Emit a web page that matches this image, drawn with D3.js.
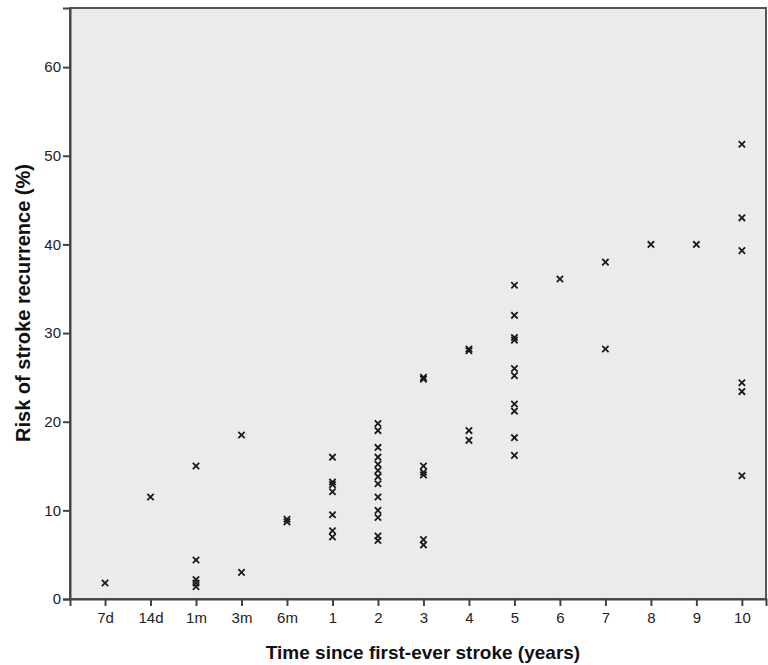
<!DOCTYPE html>
<html>
<head>
<meta charset="utf-8">
<script src="https://cdn.jsdelivr.net/npm/d3@7"></script>
<style>
  body { margin: 0; background: #fff; }
  text { font-family: "Liberation Sans", Arial, sans-serif; }
</style>
</head>
<body>
<div class="plot"></div>
<script>
// categories along x, one column of points per category
var categories = ['7d','14d','1m','3m','6m','1','2','3','4','5','6','7','8','9','10'];

// risk values (%) read for each category
var v7d  = [1.8];
var v14d = [11.5];
var v1m  = [15.0, 4.4, 2.2, 1.8, 1.4];
var v3m  = [18.5, 3.0];
var v6m  = [9.0, 8.7];
var v1y  = [16.0, 13.2, 12.9, 12.1, 9.5, 7.7, 7.0];
var v2y  = [19.8, 19.0, 17.1, 16.0, 15.2, 14.5, 13.8, 13.0, 11.5, 10.0, 9.2, 7.1, 6.6];
var v3y  = [25.0, 24.8, 15.0, 14.3, 14.0, 6.7, 6.1];
var v4y  = [28.2, 28.0, 19.0, 17.9];
var v5y  = [35.4, 32.0, 29.5, 29.2, 26.0, 25.2, 22.0, 21.2, 18.2, 16.2];
var v6y  = [36.1];
var v7y  = [38.0, 28.2];
var v8y  = [40.0];
var v9y  = [40.0];
var v10y = [51.3, 43.0, 39.3, 24.4, 23.4, 13.9];

var yTicks = [0, 10, 20, 30, 40, 50, 60];

var columns = [v7d, v14d, v1m, v3m, v6m, v1y, v2y, v3y, v4y, v5y, v6y, v7y, v8y, v9y, v10y];
var points = [];
columns.forEach(function(col, i){
    col.forEach(function(v){ points.push({c: categories[i], i: i, v: v}); });
});

var W = 768, H = 665;
var m = {t: 8, r: 2, b: 66, l: 70},
    w = W - m.l - m.r,
    h = H - m.t - m.b;

var svg = d3.select('.plot').append('svg')
    .attr('width', W)
    .attr('height', H);

var g = svg.append('g')
    .attr('transform', 'translate(' + m.l + ',' + m.t + ')');

var x = d3.scaleLinear().domain([-0.77, 14.53]).range([0, w]);
var y = d3.scaleLinear().domain([0, 66.67]).range([h, 0]);

// plot background and frame
g.append('rect')
    .attr('width', w).attr('height', h)
    .attr('fill', '#ebebeb')
    .attr('stroke', '#555')
    .attr('stroke-width', 2);

// y axis
var yAxis = g.append('g')
    .call(d3.axisLeft(y).tickValues(yTicks).tickSize(7).tickPadding(2));
yAxis.select('.domain').attr('stroke', '#444').attr('stroke-width', 2);
yAxis.selectAll('.tick line').attr('stroke', '#444').attr('stroke-width', 2);
yAxis.selectAll('.tick text')
    .attr('font-size', 15).attr('fill', '#222')
    .style('font-family', '"Liberation Sans", Arial, sans-serif');

// x axis
var xAxis = g.append('g')
    .attr('transform', 'translate(0,' + h + ')')
    .call(d3.axisBottom(x).tickValues(d3.range(categories.length))
        .tickFormat(function(d){ return categories[d]; })
        .tickSize(7).tickPadding(6));
xAxis.select('.domain').attr('stroke', '#444').attr('stroke-width', 2);
xAxis.selectAll('.tick line').attr('stroke', '#444').attr('stroke-width', 2);
xAxis.selectAll('.tick text')
    .attr('font-size', 15).attr('fill', '#222')
    .style('font-family', '"Liberation Sans", Arial, sans-serif');

// the markers
var marker = d3.symbol().type(d3.symbolTimes).size(28);
g.append('g').selectAll('path')
    .data(points)
    .enter()
    .append('path')
    .attr('transform', function(d){ return 'translate(' + x(d.i) + ',' + y(d.v) + ')'; })
    .attr('d', marker)
    .attr('fill', 'none')
    .attr('stroke', '#1a1a1a')
    .attr('stroke-width', 1.8);

// axis titles
svg.append('text')
    .attr('x', 423).attr('y', 659)
    .attr('text-anchor', 'middle')
    .attr('font-size', 19).attr('font-weight', 'bold').attr('fill', '#111')
    .text('Time since first-ever stroke (years)');

svg.append('text')
    .attr('transform', 'translate(30,303) rotate(-90)')
    .attr('text-anchor', 'middle')
    .attr('font-size', 20).attr('font-weight', 'bold').attr('fill', '#111')
    .text('Risk of stroke recurrence (%)');
</script>
</body>
</html>
